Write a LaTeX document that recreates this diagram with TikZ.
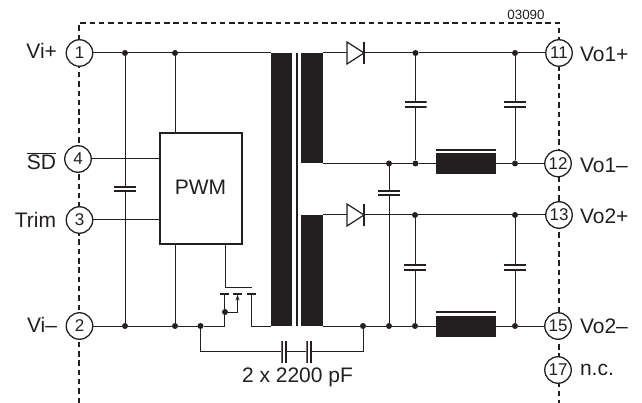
\documentclass[tikz,border=0pt]{standalone}
\usepackage{fontspec}
\setmainfont{Liberation Sans}
\usetikzlibrary{arrows.meta,shapes.geometric}
\definecolor{ink}{HTML}{231F20}
\begin{document}
\begin{tikzpicture}[
   x=1pt, y=-1pt,
   color=ink,
   line width=1pt,
   every node/.style={inner sep=0pt, outer sep=0pt},
   border/.style={line width=1.4pt, dash pattern=on 5.5pt off 3.8pt},
   pin/.style={circle, draw, fill=white, line width=1.3pt, minimum size=26.5pt, font=\fontsize{17}{18}\selectfont},
   lab/.style={font=\fontsize{21}{24}\selectfont},
   dot/.style={circle, fill=ink, minimum size=6pt},
   block/.style={rectangle, fill=ink},
   capv/.style={rectangle, minimum width=22pt, minimum height=5.5pt,
      path picture={
         \draw[line width=3pt] (path picture bounding box.north west) -- (path picture bounding box.north east);
         \draw[line width=3pt] (path picture bounding box.south west) -- (path picture bounding box.south east);}},
   caph/.style={rectangle, minimum width=5.5pt, minimum height=22pt,
      path picture={
         \draw[line width=3pt] (path picture bounding box.north west) -- (path picture bounding box.south west);
         \draw[line width=3pt] (path picture bounding box.north east) -- (path picture bounding box.south east);}},
   diode/.style={isosceles triangle, isosceles triangle apex angle=66, isosceles triangle stretches,
      draw, line width=1.2pt, minimum width=22pt, minimum height=17pt, anchor=lower side},
   fetplate/.style={rectangle, fill=ink, minimum width=9pt, minimum height=1.2pt},
   choke/.style={block, minimum width=60pt, minimum height=21pt},
   chokebar/.style={block, minimum width=60pt, minimum height=1.8pt},
   arrow/.style={-{Stealth[length=6pt,width=4pt]}}
]
\useasboundingbox (0,0) rectangle (642,403);

% housing
\coordinate (bl) at (79,403);
\coordinate (tl) at (79,23);
\coordinate (tr) at (559,23);
\coordinate (br) at (559,403);
\draw[border] (bl) -- (tl) -- (tr) -- (br);
\node[font=\fontsize{13.4}{15}\selectfont] (code) at (526,15) {03090};

% pins
\node[pin] (p1) at (79.5,53) {1};
\node[pin] (p4) at (78,159) {4};
\node[pin] (p3) at (79.5,220) {3};
\node[pin] (p2) at (79.5,326) {2};
\node[pin] (p11) at (559,53) {11};
\node[pin] (p12) at (558,163.5) {12};
\node[pin] (p13) at (559,215) {13};
\node[pin] (p15) at (558,326) {15};
\node[pin] (p17) at (558,370) {17};

\node[lab, anchor=east] (l1) at (57,51) {Vi+};
\node[lab, anchor=east] (l4) at (56,161) {$\overline{\mbox{SD}}$};
\node[lab, anchor=east] (l3) at (56,220) {Trim};
\node[lab, anchor=east] (l2) at (57,325) {Vi–};
\node[lab, anchor=west] (l11) at (580,54) {Vo1+};
\node[lab, anchor=west] (l12) at (580,165) {Vo1–};
\node[lab, anchor=west] (l13) at (580,216) {Vo2+};
\node[lab, anchor=west] (l15) at (580,326) {Vo2–};
\node[lab, anchor=west] (l17) at (580,370) {n.c.};

% PWM and transformer
\node[rectangle, draw, line width=1.5pt, minimum width=82pt, minimum height=111pt] (pwm) at (201,188.5) {};
\node[lab] (pwmt) at (200.5,187) {PWM};
\node[block, minimum width=21pt, minimum height=273pt] (core) at (281.5,189.5) {};
\node[block, minimum width=2pt, minimum height=273pt] (bar) at (296.5,189.5) {};
\node[block, minimum width=22pt, minimum height=110.5pt] (sec1) at (312,108.25) {};
\node[block, minimum width=22pt, minimum height=111pt] (sec2) at (312,270.5) {};

% input side
\node[dot] (a1) at (125,53) {};
\node[dot] (a2) at (175,53) {};
\node[dot] (b1) at (125,326) {};
\node[dot] (b2) at (175,326) {};
\node[dot] (b3) at (200.5,326) {};
\node[capv] (c1) at (125,189) {};
\draw (p1) -- (a1) -- (a2) -- (core.north west);
\draw (a1) -- (c1) -- (b1);
\draw (a2) -- (a2 |- pwm.north);
\draw (p4) -- (pwm.west |- p4);
\draw (p3) -- (pwm.west |- p3);
\draw (b2) -- (b2 |- pwm.south);

% switch
\node[fetplate] (fs) at (224.5,294) {};
\node[fetplate] (fb) at (237.5,294) {};
\node[fetplate] (fd) at (251.5,294) {};
\node[dot] (fj) at (225,312) {};
\coordinate (gc) at (225.5,287);
\coordinate (ge) at (252,287);
\draw (gc |- pwm.south) -- (gc) -- (ge);
\draw (p2) -- (b1) -- (b2) -- (b3) -- (fs |- b3) -- (fs);
\draw (fj) -- (fb |- fj);
\draw[arrow] (fb |- fj) -- (fb);
\draw (fd) -- (fd |- core.south) -- (core.south west);

% series capacitors
\node[caph] (c2) at (284,351.5) {};
\node[caph] (c3) at (309,351.5) {};
\node[dot] (d1) at (363,326) {};
\draw (b3) -- (b3 |- c2) -- (c2) -- (c3) -- (d1 |- c3) -- (d1);
\node[lab] (ct) at (297.5,377.5) {2 x 2200 pF};

% output 1
\node[diode] (v1) at (347,53) {};
\node[dot] (e1) at (415.5,53) {};
\node[dot] (e2) at (515,53) {};
\node[dot] (f0) at (389,163.5) {};
\node[dot] (f1) at (415.5,163.5) {};
\node[dot] (f2) at (515,163.5) {};
\node[capv] (c4) at (415.5,104.5) {};
\node[capv] (c5) at (515,104.5) {};
\node[choke] (l1b) at (466,163.5) {};
\node[chokebar] (l1a) at (466,150) {};
\draw (sec1.north east) -- (v1.lower side);
\draw[line width=1.2pt] ([yshift=11pt]v1.apex) -- ([yshift=-11pt]v1.apex);
\draw (v1.apex) -- (e1) -- (e2) -- (p11);
\draw (e1) -- (c4) -- (f1);
\draw (e2) -- (c5) -- (f2);
\draw (sec1.south east) -- (f0) -- (f1) -- (l1b) -- (f2) -- (p12);

% output 2
\node[diode] (v2) at (347,215) {};
\node[dot] (g1) at (415,215) {};
\node[dot] (g2) at (515,215) {};
\node[dot] (h0) at (389,326) {};
\node[dot] (h1) at (415,326) {};
\node[dot] (h2) at (515,326) {};
\node[capv] (c6) at (415,267.5) {};
\node[capv] (c7) at (515,267.5) {};
\node[capv] (c8) at (389,193) {};
\node[choke] (l2b) at (466,326.5) {};
\node[chokebar] (l2a) at (466,312) {};
\draw (sec2.north east) -- (v2.lower side);
\draw[line width=1.2pt] ([yshift=11pt]v2.apex) -- ([yshift=-11pt]v2.apex);
\draw (v2.apex) -- (g1) -- (g2) -- (p13);
\draw (g1) -- (c6) -- (h1);
\draw (g2) -- (c7) -- (h2);
\draw (sec2.south east) -- (d1) -- (h0) -- (h1) -- (h1 -| l2b.west);
\draw (l2b.east |- h2) -- (h2) -- (p15);
\draw (f0) -- (c8) -- (h0);

\end{tikzpicture}
\end{document}
